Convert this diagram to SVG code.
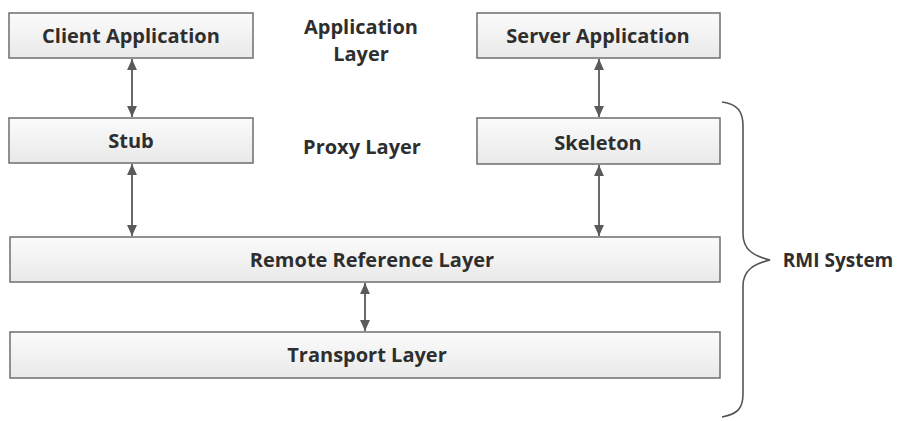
<svg xmlns="http://www.w3.org/2000/svg" width="902" height="421" viewBox="0 0 902 421">
  <style>
    .box { fill: url(#boxFill); stroke: #6e6e6e; stroke-width: 1.5; }
    .lbl { font-family: "Open Sans", "Noto Sans", "Liberation Sans", sans-serif; font-weight: 700; font-size: 20px; fill: #2e2e2e; text-anchor: middle; dominant-baseline: central; }
    .conn { stroke: #5a5a5a; stroke-width: 1.8; fill: none; marker-start: url(#head); marker-end: url(#head); }
    .brace { stroke: #555; stroke-width: 1.6; fill: none; }
  </style>
  <defs>
    <linearGradient id="boxFill" x1="0" y1="0" x2="0" y2="1">
      <stop offset="0" stop-color="#fbfbfb"/>
      <stop offset="1" stop-color="#e9e9e9"/>
    </linearGradient>
    <marker id="head" viewBox="0 0 10 10" refX="10" refY="5" markerWidth="11" markerHeight="11" orient="auto-start-reverse" markerUnits="userSpaceOnUse">
      <path d="M0,0.5 L10,5 L0,9.5 Z" fill="#5a5a5a"/>
    </marker>
  </defs>
  <rect width="902" height="421" fill="#ffffff"/>

  <!-- connectors -->
  <g id="connectors">
    <line class="conn" x1="132" y1="59" x2="132" y2="117"/>
    <line class="conn" x1="132" y1="164" x2="132" y2="236"/>
    <line class="conn" x1="599" y1="59" x2="599" y2="117"/>
    <line class="conn" x1="599" y1="165" x2="599" y2="236"/>
    <line class="conn" x1="365" y1="283" x2="365" y2="331"/>
  </g>

  <g id="client-application">
    <rect class="box" x="9" y="13" width="244" height="45"/>
    <text class="lbl" x="131" y="35">Client Application</text>
  </g>
  <g id="server-application">
    <rect class="box" x="477" y="13" width="243" height="45"/>
    <text class="lbl" x="598" y="35">Server Application</text>
  </g>
  <g id="application-layer">
    <text class="lbl" x="361" y="26">Application</text>
    <text class="lbl" x="361" y="53">Layer</text>
  </g>
  <g id="stub">
    <rect class="box" x="9" y="118" width="244" height="45"/>
    <text class="lbl" x="131" y="140">Stub</text>
  </g>
  <g id="proxy-layer">
    <text class="lbl" x="362" y="146">Proxy Layer</text>
  </g>
  <g id="skeleton">
    <rect class="box" x="477" y="118" width="243" height="46"/>
    <text class="lbl" x="598" y="142">Skeleton</text>
  </g>
  <g id="remote-reference-layer">
    <rect class="box" x="10" y="237" width="710" height="45"/>
    <text class="lbl" x="372" y="259">Remote Reference Layer</text>
  </g>
  <g id="transport-layer">
    <rect class="box" x="10" y="332" width="710" height="46"/>
    <text class="lbl" x="367" y="354">Transport Layer</text>
  </g>

  <g id="rmi-system">
    <path class="brace" d="M722,102 C738,104 743,112 743,126 L743,234 C743,250 754,256 770,260 C754,264 743,270 743,286 L743,394 C743,408 738,414 722,417"/>
    <text class="lbl" x="838" y="260" style="font-size:19px">RMI System</text>
  </g>
</svg>
